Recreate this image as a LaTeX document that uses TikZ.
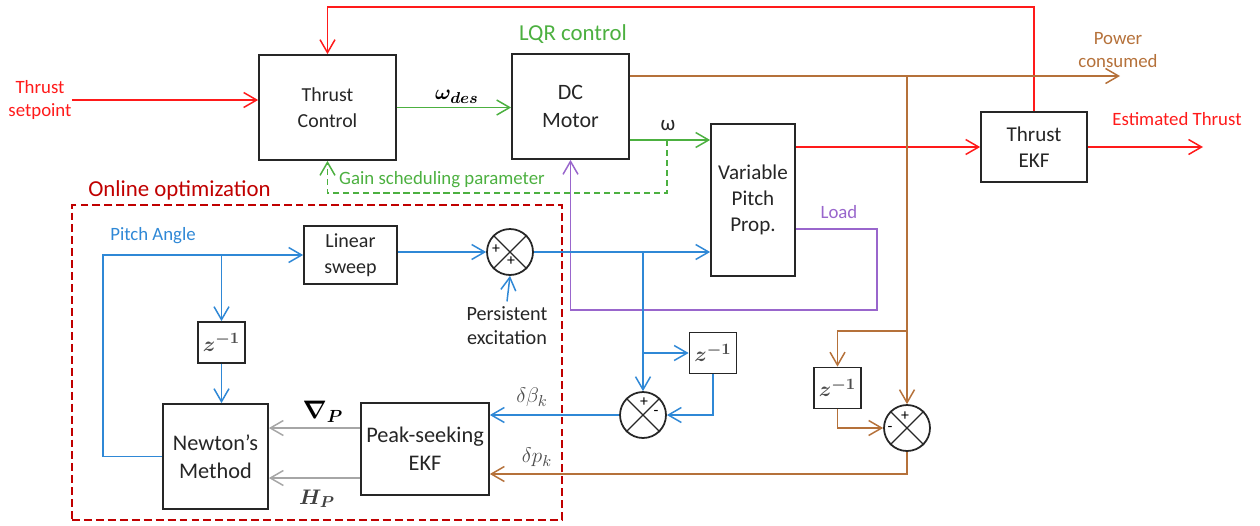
\documentclass[tikz,border=0pt]{standalone}
\usepackage{amsmath,amssymb}
\usepackage{fontspec}
\setmainfont{Carlito}
\usetikzlibrary{arrows.meta,positioning}
\definecolor{thr}{HTML}{FF1A1A}
\definecolor{lqr}{HTML}{4CB040}
\definecolor{pitch}{HTML}{2F88D6}
\definecolor{pwr}{HTML}{B5713A}
\definecolor{load}{HTML}{9966CC}
\definecolor{grad}{HTML}{A6A6A6}
\definecolor{opt}{HTML}{C00000}
\tikzset{
  blk/.style={draw=black!85, line width=1pt, align=center, inner sep=2pt,
              text=black!85, font=\fontsize{12}{15}\selectfont},
  dly/.style={blk, minimum width=0.94cm, minimum height=0.82cm,
              font=\fontsize{13}{14}\selectfont, text=black!70},
  sumj/.style={circle, draw=black!85, line width=1pt, minimum size=0.92cm, inner sep=0pt},
  sgn/.style={font=\fontsize{9}{9}\selectfont, inner sep=0pt, text=black},
  lbl/.style={font=\fontsize{10.7}{13.4}\selectfont, align=center, inner sep=0pt},
  ttl/.style={font=\fontsize{13}{15}\selectfont, inner sep=0pt},
  mth/.style={font=\fontsize{13}{15}\selectfont, inner sep=0pt},
  sig/.style={-{Straight Barb[length=2.6mm,width=3mm]}, line width=0.85pt},
}

\begin{document}
\begin{tikzpicture}[x=0.02cm, y=-0.02cm]
    \useasboundingbox (0,0) rectangle (1260,525);
    % blocks
    \node[blk, minimum width=2.74cm, minimum height=2.1cm, font=\fontsize{11.3}{15}\selectfont] (tc) at (327.5,107.5) {Thrust\\Control};
    \node[blk, minimum width=2.34cm, minimum height=2.1cm, font=\fontsize{12.5}{16}\selectfont] (dc) at (570.5,106.5) {DC\\Motor};
    \node[blk, minimum width=1.68cm, minimum height=3.04cm] (vpp) at (753,200) {Variable\\Pitch\\Prop.};
    \node[blk, minimum width=2.12cm, minimum height=1.4cm] (tekf) at (1034,147) {Thrust\\EKF};
    \node[blk, minimum width=1.86cm, minimum height=1.16cm, font=\fontsize{11.4}{14.5}\selectfont] (ls) at (350.5,255) {Linear\\sweep};
    \node[blk, minimum width=2.1cm, minimum height=2.1cm, font=\fontsize{12.7}{16}\selectfont] (nm) at (215.5,456.5) {Newton’s\\Method};
    \node[blk, minimum width=2.56cm, minimum height=1.84cm, font=\fontsize{12.7}{16}\selectfont] (pekf) at (425,449) {Peak-seeking\\EKF};
    \node[dly] (z1) at (221.5,342.5) {$\boldsymbol{z^{-1}}$};
    \node[dly] (z2) at (713,353) {$\boldsymbol{z^{-1}}$};
    \node[dly] (z3) at (837.5,388) {$\boldsymbol{z^{-1}}$};
    % summing junctions
    \node[sumj] (s1) at (510,252) {};
    \node[sumj] (s2) at (643,415) {};
    \node[sumj] (s3) at (907,428) {};
    \foreach \s in {s1,s2,s3}
      \draw[line width=0.7pt, black!85] (\s.north west) -- (\s.south east) (\s.north east) -- (\s.south west);
    \node[sgn] (s1a) at (496,249) {+};
    \node[sgn] (s1b) at (511,261) {+};
    \node[sgn] (s2a) at (644,402) {+};
    \node[sgn] (s2b) at (656,413) {-};
    \node[sgn] (s3a) at (905,416) {+};
    \node[sgn] (s3b) at (890,429) {-};
    % online optimization frame
    \node[draw=opt, line width=1.6pt, dash pattern=on 4.5pt off 2.3pt,
          minimum width=9.8cm, minimum height=6.3cm] (optbox) at (317,362.5) {};
    % labels
    \node[lbl, text=thr] (tsp) at (40,100) {Thrust\\setpoint};
    \node[ttl, text=lqr] (lqrl) at (573,34) {LQR control};
    \node[ttl, text=opt] (optl) at (179.5,190) {Online optimization};
    \node[lbl, text=pwr] (pwl) at (1118,50) {Power\\consumed};
    \node[lbl, text=thr] (etl) at (1177,119) {Estimated Thrust};
    \node[lbl, text=lqr] (gsl) at (442,180) {Gain scheduling parameter};
    \node[lbl, text=pitch] (pal) at (153,236) {Pitch Angle};
    \node[lbl, text=load] (ldl) at (839,212) {Load};
    \node[lbl, font=\fontsize{11.5}{13.6}\selectfont, text=black!85, inner sep=3pt] (pe) at (507,326) {Persistent\\excitation};
    \node[mth] (wdl) at (457,97) {$\boldsymbol{\omega_{des}}$};
    \node[mth, font=\fontsize{12}{14}\selectfont, text=black!85] (wl) at (668,126) {ω};
    \node[mth, font=\fontsize{14}{16}\selectfont] (nbl) at (323,412) {$\boldsymbol{\nabla_{P}}$};
    \node[mth, text=black!75] (hpl) at (317,499) {$\boldsymbol{H_{P}}$};
    \node[mth, text=black!70] (dbl) at (532,397) {$\delta\beta_k$};
    \node[mth, text=black!70] (dpl) at (537,457) {$\delta p_k$};
    % junction points
    \coordinate (fbtop) at (1034,7);
    \coordinate (om) at (667,140);
    \coordinate (gsc) at (667,193);
    \coordinate (pwo) at (1120,76);
    \coordinate (bj) at (907,76);
    \coordinate (bj2) at (907,331);
    \coordinate (dpc) at (907,474);
    \coordinate (eto) at (1203,147);
    \coordinate (ld) at (877,229);
    \coordinate (ldb) at (877,310);
    \coordinate (pa) at (103,456);
    % thrust loop
    \draw[sig, thr] (tsp.east) -- (tsp.east -| tc.west);
    \draw[sig, thr] (tekf.north) -- (fbtop) -| (tc.north);
    \draw[sig, thr] (vpp.east |- tekf.west) -- (tekf.west);
    \draw[sig, thr] (tekf.east) -- (eto);
    % motor
    \draw[sig, lqr] (tc.east) -- (tc.east -| dc.west);
    \draw[sig, lqr] (dc.east |- om) -- (om) -- (om -| vpp.west);
    \draw[sig, lqr, dash pattern=on 3.5pt off 2.2pt] (om) -- (gsc) -| (tc.south);
    \draw[sig, load] (vpp.east |- ld) -- (ld) -- (ldb) -| (dc.south);
    % power
    \draw[sig, pwr] (dc.east |- pwo) -- (pwo);
    \draw[sig, pwr] (bj) -- (s3.north);
    \draw[sig, pwr] (bj2) -| (z3.north);
    \draw[sig, pwr] (z3.south) |- (s3.west);
    \draw[sig, pwr] (s3.south) -- (dpc) -- (dpc -| pekf.east);
    % pitch
    \draw[sig, pitch] (nm.west) -- (nm.west -| pa) |- (ls.west);
    \draw[sig, pitch] (z1.north |- ls.west) -- (z1.north);
    \draw[sig, pitch] (z1.south) -- (z1.south |- nm.north);
    \draw[sig, pitch] (ls.east |- s1.west) -- (s1.west);
    \draw[sig, pitch] (pe.north) -- (s1.south);
    \draw[sig, pitch] (s1.east) -- (s1.east -| vpp.west);
    \draw[sig, pitch] (s2.north |- s1.east) -- (s2.north);
    \draw[sig, pitch] (s2.north |- z2.west) -- (z2.west);
    \draw[sig, pitch] (z2.south) |- (s2.east);
    \draw[sig, pitch] (s2.west) -- (s2.west -| pekf.east);
    % gradient and hessian
    \draw[sig, grad] ([yshift=0.42cm]pekf.west) coordinate (g1) -- (g1 -| nm.east);
    \draw[sig, grad] ([yshift=-0.58cm]pekf.west) coordinate (g2) -- (g2 -| nm.east);
  \end{tikzpicture}
\end{document}
